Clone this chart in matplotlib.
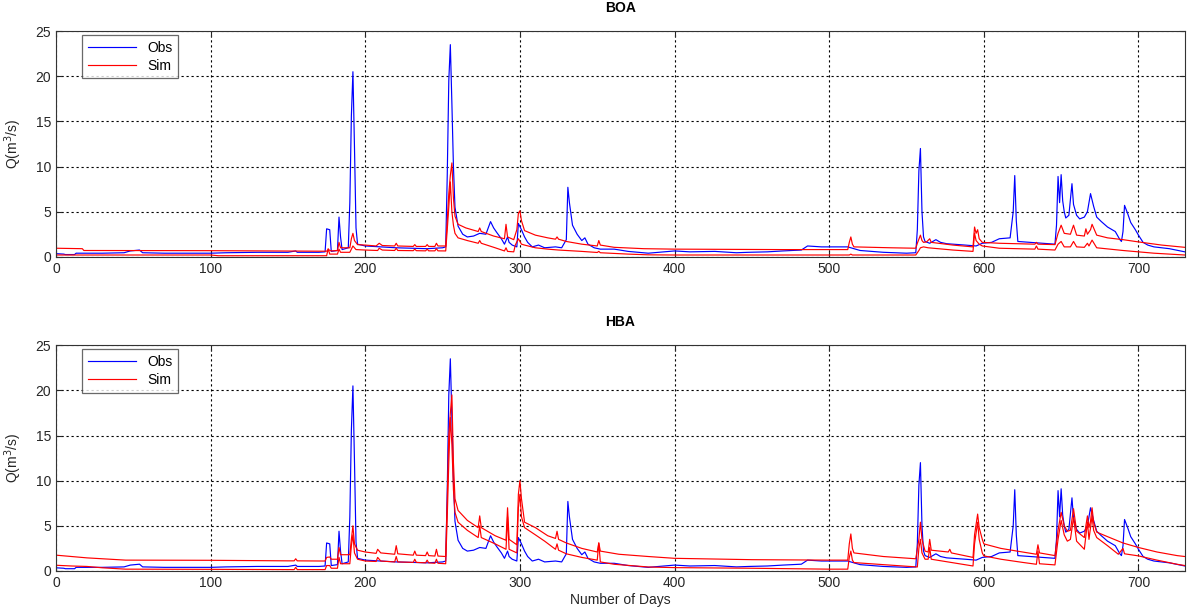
import numpy as np
import matplotlib
matplotlib.use("Agg")
import matplotlib.pyplot as plt

plt.rcParams['font.family'] = ['Liberation Sans', 'DejaVu Sans']

# observed discharge (day, Q) - same in both panels
obs = [(0,0.35),(5,0.3),(6,0.25),(12,0.25),(13,0.4),(30,0.4),(44,0.45),(48,0.65),(54,0.75),(56,0.45),
       (70,0.4),(100,0.4),(110,0.45),(130,0.5),(150,0.5),(155,0.65),(156,0.5),(170,0.5),(174,0.55),
       (175,3.1),(177,3.0),(178,0.6),(182,0.7),(183,4.4),(184,2.2),(185,0.8),(189,1.0),(190,6.0),
       (191,15.6),(192,20.5),(193,12.2),(194,3.2),(195,1.4),(200,1.2),(210,1.1),(220,1.0),(230,0.95),
       (240,0.9),(250,1.0),(252,1.1),(253,9.0),(254,19.5),(255,23.5),(256,17.0),(257,10.0),(258,5.5),
       (260,3.4),(263,2.5),(266,2.2),(270,2.3),(274,2.6),(278,2.5),(281,3.9),(283,3.2),(285,2.7),
       (288,2.0),(290,1.4),(292,2.2),(293,1.6),(295,1.3),(298,1.1),(299,3.7),(301,3.0),(303,2.2),
       (305,1.6),(308,1.1),(312,1.3),(316,1.0),(323,1.1),(327,1.0),(330,1.9),(331,7.7),(332,6.0),
       (334,3.5),(337,2.5),(340,1.8),(342,2.1),(344,1.4),(348,1.0),(352,0.85),(361,0.85),(370,0.6),
       (383,0.4),(390,0.5),(400,0.65),(410,0.55),(426,0.6),(440,0.45),(448,0.5),(460,0.55),(470,0.65),
       (482,0.75),(486,1.2),(495,1.1),(512,1.1),(520,0.7),(535,0.5),(550,0.4),(556,0.45),(557,3.0),
       (558,9.5),(559,12.0),(560,5.0),(561,2.2),(562,1.7),(565,1.5),(569,1.9),(572,1.6),(576,1.45),
       (588,1.3),(595,1.2),(599,1.5),(605,1.6),(610,2.0),(617,2.1),(619,5.0),(620,9.0),(621,4.0),
       (622,1.7),(630,1.6),(646,1.4),(647,3.5),(648,8.9),(649,6.0),(650,9.1),(651,6.2),(652,5.0),
       (653,4.3),(655,4.6),(657,8.1),(658,5.8),(660,4.6),(662,4.2),(665,4.4),(667,5.0),(669,7.0),
       (671,5.6),(673,4.4),(676,3.9),(680,3.3),(685,2.8),(688,1.9),(689,1.7),(690,2.8),(691,5.7),
       (693,4.8),(695,3.8),(698,3.0),(700,2.4),(703,1.6),(706,1.3),(710,1.1),(720,0.9),(730,0.55)]

# BOA simulation band
boa_hi = [(0,0.95),(17,0.9),(18,0.7),(100,0.68),(175,0.62),(176,0.8),(178,0.65),(182,0.7),(183,1.6),
          (184,1.0),(190,1.0),(191,2.0),(192,2.6),(193,1.8),(195,1.35),(200,1.3),(207,1.2),(209,1.5),
          (211,1.25),(219,1.2),(220,1.5),(221,1.2),(231,1.15),(232,1.35),(233,1.15),(239,1.15),(240,1.35),
          (241,1.15),(245,1.15),(246,1.5),(247,1.2),(252,1.2),(253,4.0),(254,7.0),(255,9.0),(256,10.4),
          (257,6.5),(258,4.5),(260,3.6),(265,3.2),(273,2.8),(274,3.2),(275,2.8),(283,2.3),(290,2.0),
          (291,3.6),(292,2.2),(296,1.9),(298,3.0),(299,4.8),(300,5.1),(301,4.0),(303,2.9),(310,2.4),
          (318,2.1),(323,1.95),(324,2.2),(325,1.95),(330,1.7),(340,1.4),(350,1.2),(351,1.8),(352,1.3),
          (361,1.05),(380,0.9),(400,0.85),(470,0.8),(500,0.8),(512,0.8),(513,1.6),(514,2.2),(515,1.4),
          (516,1.1),(540,1.0),(556,0.95),(557,1.5),(559,2.4),(560,1.8),(561,1.6),(563,1.65),(565,2.0),
          (566,1.6),(580,1.3),(593,1.1),(594,3.3),(595,2.6),(596,3.0),(597,2.0),(599,1.6),(610,1.5),
          (633,1.4),(634,1.6),(635,1.4),(646,1.35),(648,2.6),(650,3.5),(652,2.6),(656,2.5),(658,3.5),
          (660,2.4),(665,2.3),(666,3.1),(667,2.5),(669,3.0),(670,3.6),(673,2.4),(680,2.1),(690,1.9),
          (700,1.65),(715,1.3),(730,1.05)]

boa_lo = [(0,0.2),(100,0.2),(105,0.12),(175,0.12),(176,0.9),(177,0.3),(182,0.3),(183,0.85),(184,0.5),
          (190,0.5),(192,1.2),(194,0.8),(200,0.75),(208,0.7),(209,0.95),(211,0.75),(219,0.7),(220,0.95),
          (221,0.7),(231,0.68),(232,0.85),(233,0.68),(239,0.66),(240,0.85),(241,0.66),(245,0.66),(246,0.9),
          (247,0.66),(252,0.65),(253,3.0),(254,5.5),(255,8.3),(256,5.0),(257,3.5),(258,2.6),(260,2.1),
          (266,1.8),(273,1.5),(274,1.8),(275,1.5),(284,1.0),(290,0.65),(291,1.0),(292,0.6),(296,0.55),
          (297,1.3),(299,2.0),(301,1.4),(303,1.3),(310,1.0),(318,0.85),(325,0.75),(340,0.6),(350,0.48),
          (351,0.6),(352,0.45),(370,0.3),(383,0.22),(400,0.2),(500,0.2),(513,0.2),(514,0.3),(515,0.2),
          (556,0.2),(558,0.7),(559,1.0),(561,1.1),(564,1.0),(580,0.75),(593,0.6),(594,2.6),(595,1.8),
          (597,1.4),(599,1.2),(610,0.95),(633,0.85),(634,1.2),(635,0.85),(646,0.75),(648,1.4),(650,1.7),
          (652,1.1),(656,1.1),(658,1.7),(660,1.1),(665,1.05),(667,1.5),(668,1.2),(670,1.85),(673,1.0),
          (690,0.7),(710,0.4),(730,0.2)]

# HBA simulation band
hba_hi = [(0,1.75),(10,1.6),(20,1.45),(30,1.35),(45,1.2),(100,1.18),(150,1.12),(154,1.12),(155,1.35),
          (156,1.12),(174,1.1),(175,1.5),(177,1.55),(178,1.3),(182,1.3),(183,2.6),(184,1.8),(190,1.8),
          (191,3.5),(192,5.0),(193,3.0),(195,2.3),(200,2.1),(207,1.95),(208,2.4),(210,2.0),(219,1.85),
          (220,2.8),(221,1.9),(231,1.75),(232,2.2),(233,1.75),(239,1.7),(240,2.1),(241,1.7),(245,1.65),
          (246,2.4),(247,1.65),(252,1.6),(253,8.0),(254,15.0),(255,17.5),(256,19.5),(257,12.0),(258,8.0),
          (260,6.7),(266,5.6),(273,4.8),(274,6.1),(275,4.8),(284,3.9),(291,3.4),(292,7.0),(293,3.5),
          (298,2.9),(299,8.5),(300,10.0),(301,8.0),(303,5.4),(310,4.8),(318,3.9),(323,3.6),(324,4.4),
          (325,3.5),(330,3.1),(340,2.5),(350,2.1),(351,3.1),(352,2.2),(364,1.85),(383,1.6),(400,1.4),
          (450,1.25),(500,1.2),(512,1.2),(513,3.0),(514,4.1),(515,2.5),(516,2.0),(535,1.6),(556,1.35),
          (558,3.5),(559,5.4),(560,3.5),(562,2.2),(564,2.1),(565,3.5),(566,2.3),(577,2.1),(578,2.4),
          (579,2.0),(593,1.5),(594,4.0),(596,6.3),(597,4.8),(599,3.5),(600,3.0),(611,2.5),(625,2.1),
          (634,1.85),(635,2.9),(636,2.0),(646,1.7),(648,4.5),(650,6.5),(652,5.0),(654,4.4),(656,4.5),
          (658,6.9),(660,4.4),(665,3.7),(666,5.0),(667,6.1),(668,4.8),(669,5.5),(670,7.0),(671,5.4),
          (673,4.3),(680,3.8),(690,3.1),(700,2.6),(712,2.1),(725,1.7),(730,1.6)]

hba_lo = [(0,0.63),(10,0.55),(20,0.5),(30,0.35),(45,0.2),(100,0.18),(150,0.15),(154,0.15),(155,0.4),
          (156,0.15),(174,0.15),(175,0.6),(177,0.6),(178,0.3),(182,0.3),(183,1.5),(184,0.8),(190,0.8),
          (191,2.8),(192,4.0),(193,2.0),(195,1.3),(200,1.1),(207,1.05),(208,1.5),(210,1.1),(219,1.0),
          (220,1.6),(221,1.0),(231,0.95),(232,1.3),(233,0.95),(239,0.9),(240,1.2),(241,0.9),(245,0.85),
          (246,1.3),(247,0.85),(252,0.8),(253,6.0),(254,12.0),(255,17.0),(256,14.0),(257,9.0),(258,6.5),
          (260,5.4),(266,4.5),(273,3.7),(274,5.0),(275,3.7),(284,3.0),(291,2.4),(292,6.0),(293,2.4),
          (298,2.0),(299,7.0),(300,8.5),(301,6.0),(303,4.8),(310,4.0),(316,3.3),(323,2.4),(324,3.0),
          (325,2.3),(330,1.9),(340,1.5),(350,1.2),(351,3.1),(352,1.0),(361,0.74),(383,0.44),(400,0.37),
          (450,0.3),(500,0.2),(512,0.2),(513,1.5),(514,2.2),(515,1.2),(516,0.93),(535,0.7),(557,0.44),
          (558,2.5),(559,3.5),(560,2.0),(562,1.3),(564,1.3),(565,2.6),(566,1.3),(593,0.55),(594,3.0),
          (596,5.4),(597,3.5),(599,2.0),(600,1.67),(611,1.3),(625,0.95),(634,0.74),(635,2.2),(636,0.8),
          (646,0.67),(648,3.5),(650,5.6),(652,4.0),(654,3.3),(656,3.5),(658,5.9),(660,3.3),(665,2.4),
          (667,5.4),(668,3.5),(670,6.1),(671,4.5),(673,3.7),(680,2.8),(687,1.85),(690,2.5),(691,1.9),
          (700,1.67),(712,1.2),(725,0.74),(730,0.6)]

panels = [("BOA", boa_hi, boa_lo), ("HBA", hba_hi, hba_lo)]

fig = plt.figure(figsize=(11.92, 6.10), dpi=100)
boxes = [[0.047, 0.579, 0.947, 0.370], [0.047, 0.064, 0.947, 0.370]]
txt = '#262626'

for i, (name, hi, lo) in enumerate(panels):
    ax = fig.add_axes(boxes[i])
    od, oq = zip(*obs)
    ax.plot(od, oq, color='#0000ff', lw=0.85, label='Obs')
    hd, hq = zip(*hi)
    ax.plot(hd, hq, color='#ff0000', lw=0.85, label='Sim')
    ld, lq = zip(*lo)
    ax.plot(ld, lq, color='#ff0000', lw=0.85)

    ax.set_xlim(0, 730)
    ax.set_ylim(0, 25)
    ax.set_xticks(np.arange(0, 701, 100))
    ax.set_yticks(np.arange(0, 26, 5))
    ax.grid(True, color='black', linestyle=(0, (2, 2.5)), linewidth=0.8)
    ax.tick_params(direction='in', length=4, labelsize=10, colors=txt, top=True, right=True)
    for s in ax.spines.values():
        s.set_color('#333333')
    ax.set_title(name, fontsize=10, fontweight='bold', pad=14)
    ax.set_ylabel('Q(m$^3$/s)', fontsize=10, color=txt, labelpad=8)
    leg = ax.legend(loc='upper left', bbox_to_anchor=(0.023, 0.982), borderaxespad=0,
                    fancybox=False, edgecolor='#444444', fontsize=10, handlelength=3.5,
                    borderpad=0.4, labelspacing=0.3)
    leg.get_frame().set_linewidth(0.9)
    if i == 1:
        ax.set_xlabel('Number of Days', fontsize=10, color=txt, labelpad=2)

fig.savefig('out.png', dpi=100)
